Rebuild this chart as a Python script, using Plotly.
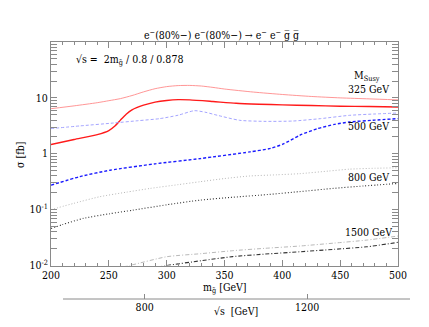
import plotly.graph_objects as go

# ---------------- data ----------------
m_325_hi = [200, 220, 240, 250, 260, 270, 280, 290, 300, 310, 320, 330, 340, 350, 375, 400, 425, 450, 475, 500]
s_325_hi = [6.4, 7.2, 8.2, 8.9, 9.7, 11.0, 12.8, 14.6, 15.9, 16.6, 16.7, 16.3, 15.4, 14.4, 12.7, 11.5, 10.6, 10.0, 9.6, 9.2]

m_325_lo = [200, 220, 240, 250, 255, 260, 265, 270, 280, 290, 300, 310, 320, 340, 360, 380, 400, 425, 450, 475, 500]
s_325_lo = [1.46, 1.8, 2.2, 2.6, 3.1, 4.0, 5.1, 6.1, 7.4, 8.4, 9.0, 9.3, 9.2, 8.6, 8.0, 7.7, 7.5, 7.3, 7.1, 7.0, 6.85]

m_500_hi = [200, 225, 254, 275, 294, 310, 324, 334, 344, 363, 385, 409, 433, 458, 480, 500]
s_500_hi = [2.82, 3.15, 3.55, 3.9, 4.25, 4.9, 5.9, 5.5, 4.87, 3.97, 3.8, 3.85, 4.25, 4.87, 5.15, 5.36]

m_500_lo = [200, 225, 251, 290, 329, 372, 390, 401, 415, 430, 445, 458, 480, 500]
s_500_lo = [0.274, 0.39, 0.507, 0.66, 0.82, 1.08, 1.25, 1.5, 2.14, 2.8, 3.35, 3.7, 4.0, 4.25]

m_800_hi = [200, 220, 242, 265, 286, 310, 329, 350, 372, 395, 415, 440, 458, 480, 500]
s_800_hi = [0.1, 0.13, 0.17, 0.205, 0.24, 0.28, 0.316, 0.36, 0.40, 0.42, 0.44, 0.49, 0.53, 0.55, 0.56]

m_800_lo = [200, 210, 228, 250, 271, 300, 329, 358, 387, 415, 444, 470, 500]
s_800_lo = [0.046, 0.054, 0.0697, 0.084, 0.098, 0.122, 0.148, 0.167, 0.186, 0.21, 0.24, 0.265, 0.294]

m_1500_hi = [255, 268, 300, 330, 357, 385, 415, 445, 473, 500]
s_1500_hi = [0.0088, 0.01, 0.01436, 0.0163, 0.0184, 0.0203, 0.0223, 0.0252, 0.0285, 0.0337]

m_1500_lo = [285, 300, 330, 357, 385, 415, 445, 473, 500]
s_1500_lo = [0.0088, 0.01, 0.0122, 0.0144, 0.016, 0.0176, 0.0195, 0.0216, 0.026]

x_ticks = [200, 250, 300, 350, 400, 450, 500]
y_tickvals = [10, 1, 0.1, 0.01]
y_ticktext = ["10", "1", "10<sup>-1</sup>", "10<sup>-2</sup>"]
sqrts_ticks = [800, 1200]

FONT = "DejaVu Serif Condensed, DejaVu Serif, serif"
FS = 10.5
AXC = "#8a8a8a"
OFF = 8  # default page body margin

fig = go.Figure()

def add(mx, sy, color, width, dash):
    fig.add_trace(go.Scatter(x=mx, y=sy, mode="lines",
                             line=dict(color=color, width=width, dash=dash, shape="spline", smoothing=0.6),
                             showlegend=False, hoverinfo="skip"))

add(m_325_hi, s_325_hi, "#ff8a8a", 0.9, "solid")
add(m_325_lo, s_325_lo, "#ff1a1a", 1.4, "solid")
add(m_500_hi, s_500_hi, "#9a9aff", 0.9, "3px,2px")
add(m_500_lo, s_500_lo, "#1a1aff", 1.4, "3px,2px")
add(m_800_hi, s_800_hi, "#b0b0b0", 0.9, "1px,2px")
add(m_800_lo, s_800_lo, "#333333", 1.1, "1px,2px")
add(m_1500_hi, s_1500_hi, "#b0b0b0", 0.9, "4px,2px,1px,2px")
add(m_1500_lo, s_1500_lo, "#333333", 1.1, "4px,2px,1px,2px")

# secondary sqrt(s) axis helper trace
conv = 2 / 0.8 / 0.878
fig.add_trace(go.Scatter(x=[200 * conv, 500 * conv], y=[None, None], xaxis="x2", yaxis="y",
                         mode="lines", showlegend=False, hoverinfo="skip"))

# minor ticks
x_minor = [v for v in range(200, 501, 10) if v % 50 != 0]
y_minor = []
for d in [0.01, 0.1, 1, 10]:
    for k in range(2, 10):
        y_minor.append(d * k)

ydom0 = (299 - 265.5) / 257

fig.update_layout(
    width=429 - OFF, height=327 - OFF,
    margin=dict(l=51 - OFF, r=31, t=42 - OFF, b=28, autoexpand=False),
    paper_bgcolor="white", plot_bgcolor="white",
    font=dict(family=FONT, size=FS, color="black"),
    xaxis=dict(range=[200, 500], tickvals=x_ticks, ticks="inside", ticklen=6, tickcolor=AXC,
               showline=True, linecolor=AXC, linewidth=1, mirror="allticks", showgrid=False, zeroline=False,
               anchor="y", automargin=False, tickfont=dict(family=FONT, size=FS),
               minor=dict(tickvals=x_minor, ticks="inside", ticklen=3, tickcolor=AXC, showgrid=False)),
    yaxis=dict(type="log", range=[-2, 2], domain=[ydom0, 1], tickvals=y_tickvals, ticktext=y_ticktext,
               ticks="inside", ticklen=6, tickcolor=AXC, showline=True, linecolor=AXC, linewidth=1,
               mirror="allticks", showgrid=False, zeroline=False, automargin=False,
               tickfont=dict(family=FONT, size=FS),
               minor=dict(tickvals=y_minor, ticks="inside", ticklen=3, tickcolor=AXC, showgrid=False)),
    xaxis2=dict(overlaying="x", anchor="free", position=0, range=[200 * conv, 500 * conv],
                tickvals=sqrts_ticks, ticks="inside", ticklen=5, tickcolor=AXC, showline=False,
                showgrid=False, zeroline=False, automargin=False, tickfont=dict(family=FONT, size=FS)),
)

# the offset sqrt(s) axis line
fig.add_shape(type="line", xref="paper", yref="paper", x0=(63 - 51) / 347, x1=(410 - 51) / 347,
              y0=0, y1=0, line=dict(color=AXC, width=1))

def ann(text, x, y, size=FS, angle=0, xanchor="center"):
    fig.add_annotation(text=text, xref="paper", yref="paper",
                       x=(x - 51) / 347, y=(299 - y) / 257, showarrow=False, textangle=angle,
                       font=dict(family=FONT, size=size, color="black"), xanchor=xanchor, yanchor="middle")

ann("e<sup>−</sup>(80%−) e<sup>−</sup>(80%−) → e<sup>−</sup> e<sup>−</sup> g̅ g̅", 221, 34)
ann("√s =  2m<sub>g̃</sub> / 0.8 / 0.878", 74, 60, xanchor="left")
ann("M<sub>Susy</sub>", 367, 76)
ann("325 GeV", 368, 89)
ann("500 GeV", 368, 126)
ann("800 GeV", 368, 177)
ann("1500 GeV", 368, 232)
ann("σ [fb]", 20, 155, angle=-90)
ann("m<sub>g̃</sub> [GeV]", 225, 288)
ann("√s  [GeV]", 236, 311)

fig.write_html("out.html")
